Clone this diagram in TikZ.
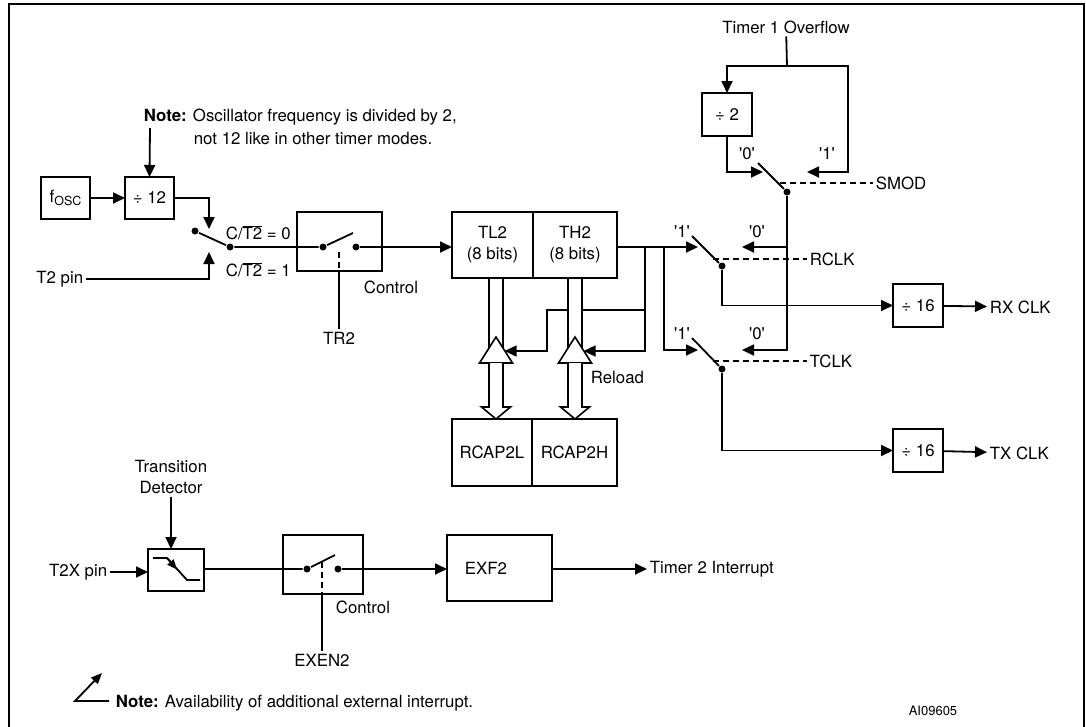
\documentclass[tikz,border=0pt]{standalone}
\usepackage{fontspec}
\setmainfont{TeX Gyre Heros}
\usetikzlibrary{arrows.meta,positioning}
\newcommand{\sq}[1]{\textquotesingle#1\textquotesingle}

\begin{document}
\begin{tikzpicture}[x=1pt,y=-1pt,line width=1.8pt,>={Triangle[length=12pt,width=11pt]},
  font=\fontsize{16.8}{21}\selectfont,
  blk/.style={draw,line width=2.4pt,outer sep=0pt,inner sep=0pt,align=center},
  dot/.style={circle,fill,inner sep=0pt,minimum size=7pt},
  sel/.style={dash pattern=on 6pt off 4pt},
  bus/.style={draw,fill=white,line width=1.6pt},
  txt/.style={inner sep=2pt}]
\useasboundingbox (0,0) rectangle (1086,726);
\draw[line width=2.8pt] (9,740) -- (9,4) -- (1084,4) -- (1084,740);

\node[blk,minimum width=49pt,minimum height=42pt] (fosc) at (65.5,198) {f\raisebox{-0.35ex}{\fontsize{12.5}{13}\selectfont OSC}};
\node[blk,minimum width=49pt,minimum height=42pt,right=35pt of fosc] (div12) {÷ 12};
\node[blk,minimum width=85pt,minimum height=59pt] (ctrl) at (339.5,241.5) {};
\node[blk,minimum width=81pt,minimum height=66pt] (tl2) at (492.5,245) {TL2\\(8 bits)};
\node[blk,minimum width=84pt,minimum height=66pt,right=0pt of tl2] (th2) {TH2\\(8 bits)};
\node[blk,minimum width=80pt,minimum height=67pt] (rcl) at (492,452.5) {RCAP2L};
\node[blk,minimum width=85pt,minimum height=67pt,right=0pt of rcl] (rch) {RCAP2H};
\node[blk,minimum width=50pt,minimum height=43pt] (div2) at (727,114.5) {÷ 2};
\node[blk,minimum width=50pt,minimum height=43pt] (rx16) at (918,305.5) {÷ 16};
\node[blk,minimum width=50pt,minimum height=43pt] (tx16) at (918,450.5) {÷ 16};
\node[blk,minimum width=56pt,minimum height=42pt] (td) at (176,570) {};
\node[blk,minimum width=80pt,minimum height=59pt] (ctrlx) at (323,564.5) {};
\node[blk,minimum width=105pt,minimum height=66pt] (exf2) at (499.5,568) {EXF2\hspace{27pt}};

\node[txt,anchor=west] (note) at (141,117) {\textbf{Note:} Oscillator frequency is divided by 2,};
\node[txt,anchor=west] (note2) at (191,138) {not 12 like in other timer modes.};
\node[txt,anchor=west] (ct0) at (223,233) {C/$\overline{\mbox{T2}}$ = 0};
\node[txt,anchor=west] (ct1) at (223,270) {C/$\overline{\mbox{T2}}$ = 1};
\node[txt,anchor=east] (t2pin) at (86,279) {T2 pin};
\node[txt,anchor=west] (ctl1) at (361,287) {Control};
\node[txt] (tr2) at (339,338) {TR2};
\node[txt,anchor=west] (reload) at (588,377) {Reload};
\node[txt] (t1ovf) at (786,27) {Timer 1 Overflow};
\node[txt,anchor=west] (smod) at (873,183) {SMOD};
\node[txt,anchor=west] (rclk) at (807,259) {RCLK};
\node[txt,anchor=west] (tclk) at (807,361) {TCLK};
\node[txt,anchor=west] (rxclk) at (987,307) {RX CLK};
\node[txt,anchor=west] (txclk) at (987,453) {TX CLK};
\node[txt] (q1) at (747,154) {\sq{0}};
\node[txt] (q2) at (827,154) {\sq{1}};
\node[txt] (q3) at (682,232) {\sq{1}};
\node[txt] (q4) at (757,232) {\sq{0}};
\node[txt] (q5) at (682,334) {\sq{1}};
\node[txt] (q6) at (757,334) {\sq{0}};

\coordinate (nt) at (150,128);
\draw[->] (nt) -- (div12.north);
\draw[->] (fosc) -- (div12);
\node[dot] (s1a) at (195,231) {};
\node[dot] (s1p) at (230,247) {};
\draw (s1a) -- (s1p);
\coordinate (s1up) at (209,229);
\coordinate (s1dn) at (209,252);
\draw[->] (div12.east) -| (s1up);
\draw[->] (t2pin) -| (s1dn);

\node[dot] (c1a) at (323,247) {};
\node[dot] (c1b) at (356,247) {};
\coordinate (c1t) at (353,233);
\coordinate (c1k) at (339,252);
\draw (s1p) -- (c1a) -- (c1t);
\draw[sel] (c1k) -- (c1k |- ctrl.south);
\draw (c1k |- ctrl.south) -- (tr2);
\draw[->] (c1b) -- (c1b -| tl2.west);

\coordinate (j1) at (645,247);
\coordinate (j2) at (664,247);
\coordinate (j3) at (645,310);
\coordinate (j4) at (547,310);
\coordinate (bufL) at (504.6,351);
\coordinate (bufH) at (583.6,351);
\draw[->] (j1) |- (bufH);
\draw[->] (j3) -- (j4) |- (bufL);
\foreach \x in {496,575} {
  \draw[bus] (\x-7,278) rectangle (\x+7,350);
  \draw[bus] (\x,337) -- (\x+16.5,363) -- (\x-16.5,363) -- cycle;
  \draw[bus] (\x-7,363) -- (\x-7,407) -- (\x-14.5,407) -- (\x,419) -- (\x+14.5,407) -- (\x+7,407) -- (\x+7,363);
}

\coordinate (rsw1) at (698,247);
\coordinate (rb) at (692,236);
\node[dot] (rp) at (722,266) {};
\draw[->] (th2.east |- c1b) -- (rsw1);
\draw (rb) -- (rp);
\draw[sel] (713,259) -- (rclk);
\draw[->] (rp) |- (rx16);
\draw[->] (rx16) -- (rxclk);

\coordinate (tj) at (787,66);
\coordinate (sb) at (758,163);
\coordinate (s0) at (763,172);
\coordinate (s1) at (807,172);
\node[dot] (sp) at (787,192) {};
\draw (t1ovf) -- (tj);
\draw[->] (tj) -| (div2.north);
\draw[->] (tj) -- (848,66) |- (s1);
\draw[->] (div2.south) |- (s0);
\draw (sb) -- (sp);
\draw[sel] (780,183) -- (smod);

\coordinate (r0) at (742,247);
\coordinate (t0) at (742,350);
\draw[->] (sp) |- (t0);
\draw[->] (sp |- r0) -- (r0);

\coordinate (tsw1) at (698,350);
\coordinate (tb) at (692,338);
\node[dot] (tp) at (722,369) {};
\draw[->] (j2) |- (tsw1);
\draw (tb) -- (tp);
\draw[sel] (713,361) -- (tclk);
\draw[->] (tp) |- (tx16);
\draw[->] (tx16) -- (txclk);

\node[txt,align=center] (trans) at (171,477) {Transition\\Detector};
\node[txt,anchor=east] (t2x) at (110,572) {T2X pin};
\draw[->] (trans) -- (trans |- td.north);
\draw[->] (t2x) -- (t2x -| td.west);
\draw (153,558) -- (167,558) -- (187,580) -- (200,580);
\draw[-{Triangle[length=10pt,width=8pt]}] (167,558) -- (177,569.5);

\node[dot] (c2a) at (307,569) {};
\node[dot] (c2b) at (338,569) {};
\coordinate (c2t) at (335,555);
\coordinate (c2k) at (322,562);
\node[txt] (exen2) at (322,660) {EXEN2};
\node[txt,anchor=west] (ctl2) at (333,607) {Control};
\draw (td.east |- c2a) -- (c2a) -- (c2t);
\draw[sel] (c2k) -- (c2k |- ctrlx.south);
\draw (c2k |- ctrlx.south) -- (exen2);
\draw[->] (c2b) -- (c2b -| exf2.west);
\node[txt,anchor=west] (t2int) at (647,569) {Timer 2 Interrupt};
\draw[->] (exf2.east |- t2int) -- (t2int);

\node[txt,anchor=west] (note3) at (113,703) {\textbf{Note:} Availability of additional external interrupt.};
\coordinate (nc) at (109,701);
\coordinate (na) at (75,701);
\coordinate (nb) at (102,673);
\draw[->,>={Triangle[length=11pt,width=9pt]}] (nc) -- (na) -- (nb);
\node[txt,font=\fontsize{13}{15}\selectfont] (ai) at (933,711) {AI09605};
\end{tikzpicture}
\end{document}
